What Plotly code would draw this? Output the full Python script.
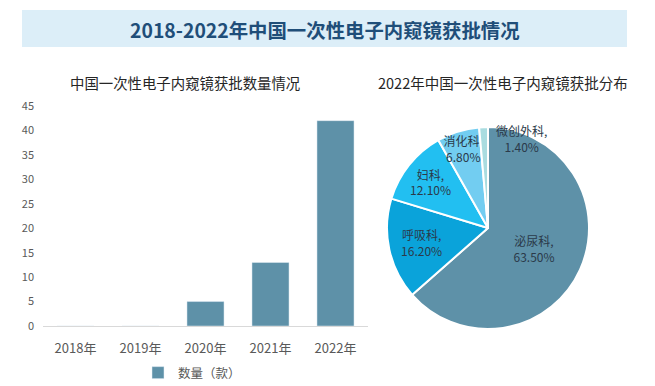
import plotly.graph_objects as go

years = ["2018年", "2019年", "2020年", "2021年", "2022年"]
counts = [0, 0, 5, 13, 42]
bar_name = "数量（款）"

depts = ["泌尿科", "呼吸科", "妇科", "消化科", "微创外科"]
shares = [63.5, 16.2, 12.1, 6.8, 1.4]
pie_colors = ["#5E91A8", "#0AA3DA", "#22BFF1", "#72CDF1", "#A9DCE0"]

main_title = "2018-2022年中国一次性电子内窥镜获批情况"
bar_title = "中国一次性电子内窥镜获批数量情况"
pie_title = "2022年中国一次性电子内窥镜获批分布"

FONT = "Noto Sans CJK SC"
OFF = 8  # page body margin
W, H = 655 - OFF, 386 - OFF


def px(x):
    return (x - OFF) / W


def py(y):
    return 1 - (y - OFF) / H


fig = go.Figure()
fig.add_trace(go.Bar(
    x=years, y=counts, name=bar_name, marker_color="#5E91A8",
    xaxis="x", yaxis="y", showlegend=True,
))
labels_text = [f"{d},<br>{s:.2f}%" for d, s in zip(depts, shares)]
fig.add_trace(go.Pie(
    labels=depts, values=shares, text=labels_text[:-1] + [""], textinfo="text",
    texttemplate="%{text}",
    sort=False, direction="clockwise", rotation=0,
    marker=dict(colors=pie_colors, line=dict(color="white", width=2)),
    textposition=["inside", "inside", "inside", "inside", "none"],
    insidetextorientation="horizontal",
    textfont=dict(family=FONT, size=12, color="#2B3A4A"),
    domain=dict(x=[px(387), px(589)], y=[py(329), py(127)]),
    showlegend=False, hoverinfo="label+percent",
))

fig.update_layout(
    width=W, height=H,
    margin=dict(l=0, r=0, t=0, b=0, autoexpand=False),
    paper_bgcolor="white", plot_bgcolor="white",
    font=dict(family=FONT, color="#595959"),
    bargap=0.43,
    uniformtext=dict(minsize=12, mode="show"),
    xaxis=dict(domain=[px(43), px(368)], anchor="y", showline=True,
               linecolor="#D9D9D9", linewidth=1, ticks="",
               ticklabelstandoff=10, automargin=False,
               tickfont=dict(size=13, color="#595959")),
    yaxis=dict(domain=[py(326), py(106)], anchor="x", range=[0, 45],
               dtick=5, showgrid=False, zeroline=False, showline=False,
               ticklabelstandoff=8, automargin=False,
               tickfont=dict(size=11, color="#595959")),
    legend=dict(orientation="h", x=px(192), xanchor="center", y=py(373),
                yanchor="middle", font=dict(size=12.5, color="#595959"),
                itemwidth=30),
    shapes=[dict(type="rect", xref="paper", yref="paper",
                 x0=px(22), x1=px(627), y0=py(47), y1=py(10),
                 fillcolor="#DCEEF8", line=dict(width=0), layer="below")],
    annotations=[
        dict(text=f"<b>{main_title}</b>", xref="paper", yref="paper",
             x=px(325), y=py(29), xanchor="center", yanchor="middle",
             showarrow=False,
             font=dict(family=FONT, size=19.4, color="#1F4E79")),
        dict(text=bar_title, xref="paper", yref="paper",
             x=px(185), y=py(82), xanchor="center", yanchor="middle",
             showarrow=False,
             font=dict(family=FONT, size=14.4, color="#262626")),
        dict(text=pie_title, xref="paper", yref="paper",
             x=px(503), y=py(83), xanchor="center", yanchor="middle",
             showarrow=False,
             font=dict(family=FONT, size=14.5, color="#262626")),
        dict(text=labels_text[-1], xref="paper", yref="paper",
             x=px(521), y=py(139), xanchor="center", yanchor="middle",
             showarrow=False,
             font=dict(family=FONT, size=12, color="#2B3A4A")),
    ],
)

fig.write_html("out.html")
